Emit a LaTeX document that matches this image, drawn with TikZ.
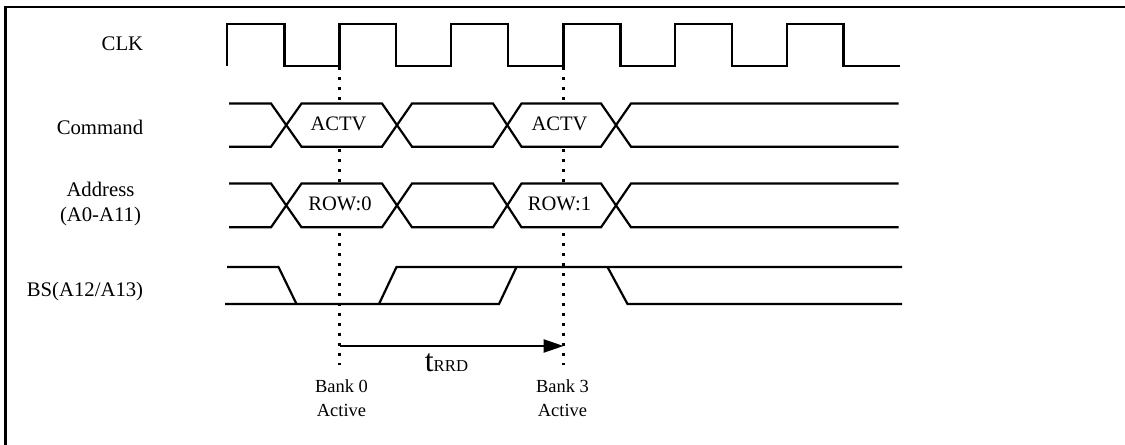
\documentclass[tikz,border=0pt]{standalone}
\usepackage{fontspec}
\setmainfont{Liberation Serif}
\usepackage{tikz}
\usetikzlibrary{arrows.meta}
\tikzset{
	wave/.style={line width=1.25pt,line join=miter},
	framing/.style={line width=1.5pt},
	marker/.style={line width=1.7pt,dash pattern=on 1.7pt off 3.97pt},
	siglabel/.style={font=\fontsize{11.8}{14.7}\selectfont,align=center,inner sep=0pt},
	buslabel/.style={font=\fontsize{11.7}{14}\selectfont,inner sep=0pt},
	banklabel/.style={font=\fontsize{10.5}{13.6}\selectfont,align=center,inner sep=0pt}
}

\begin{document}
\begin{tikzpicture}[x=0.02cm,y=-0.02cm]
	\useasboundingbox (0,0) rectangle (1125,445);
	\draw[framing] (1125,7) -- (5.5,7) -- (5.5,445);
	%
	\node[siglabel,anchor=east] (CLK) at (143.5,44) {CLK};
	\node[siglabel,anchor=east] (CMD) at (143.5,127.5) {Command};
	\node[siglabel] (ADDR) at (100.5,204) {Address\\(A0-A11)};
	\node[siglabel,anchor=east] (BS) at (143.5,291.5) {BS(A12/A13)};
	%
	\draw[wave] (227,66) |- (284.5,24) |- (339.5,66) |- (396,24) |- (451,66) |- (508,24)
		|- (563.5,66) |- (620.5,24) |- (675,66) |- (732,24) |- (787,66) |- (843.5,24) |- (899.5,66);
	%
	\foreach \top/\bot in {103.5/146.7,183.5/227.3} {
		\draw[wave] (229,\top) -- (271,\top) -- (301.5,\bot) -- (382,\bot) -- (412,\top) -- (493,\top)
			-- (521.5,\bot) -- (601,\bot) -- (631,\top) -- (898.5,\top);
		\draw[wave] (229,\bot) -- (271,\bot) -- (301.5,\top) -- (382,\top) -- (412,\bot) -- (493,\bot)
			-- (521.5,\top) -- (601,\top) -- (631,\bot) -- (898.5,\bot);
	}
	\node[buslabel] (ACTVa) at (338.5,124) {ACTV};
	\node[buslabel] (ACTVb) at (559.5,124) {ACTV};
	\node[buslabel] (ROWa) at (340,204) {ROW:0};
	\node[buslabel] (ROWb) at (559.5,204) {ROW:1};
	%
	\draw[wave] (227,267) -- (278.5,267) -- (296.5,304);
	\draw[wave] (225,304) -- (499,304) -- (516.5,267);
	\draw[wave] (379,304) -- (396.5,267) -- (902,267);
	\draw[wave] (607.5,267) -- (627.5,304) -- (902,304);
	%
	\foreach \x/\nm in {339.5/a,563.5/b} {
		\coordinate (m\nm1) at (\x,67);
		\coordinate (m\nm2) at (\x,102);
		\coordinate (m\nm3) at (\x,149);
		\coordinate (m\nm4) at (\x,182);
		\coordinate (m\nm5) at (\x,233);
		\coordinate (m\nm6) at (\x,370);
		\draw[marker] (m\nm1) -- (m\nm2);
		\draw[marker] (m\nm3) -- (m\nm4);
		\draw[marker] (m\nm5) -- (m\nm6);
	}
	%
	\coordinate (RRDa) at (339.5,346);
	\coordinate (RRDb) at (563.5,346);
	\draw[wave,-{Stealth[length=11.3pt,width=7.4pt,inset=0pt]}] (RRDa) -- (RRDb);
	\node[inner sep=0pt,font=\fontsize{18}{18}\selectfont] (tRRD) at (446.5,362.5) {t\fontsize{9.5}{10}\selectfont RRD};
	%
	\node[banklabel] (BKa) at (341.5,398.5) {Bank 0\\Active};
	\node[banklabel] (BKb) at (562.5,398.5) {Bank 3\\Active};
\end{tikzpicture}
\end{document}
